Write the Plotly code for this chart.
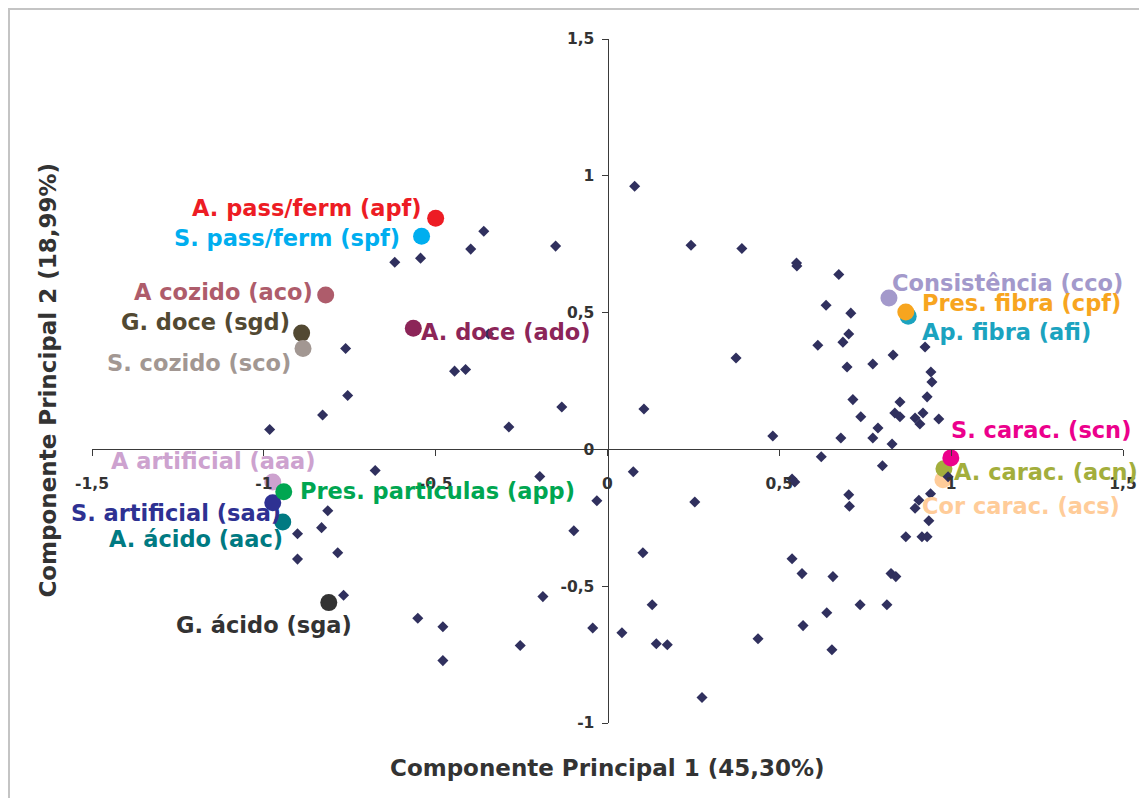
import plotly.graph_objects as go

# ---------------- data ----------------
# observations (scores) - dark diamonds
pc1_obs = [-0.619, -0.544, -0.398, -0.360, -0.151, -0.762, -0.445, -0.413, -0.756, -0.346,
           -0.829, -0.983, -0.133, -0.287,
           -0.676, -0.197, -0.031, -0.814, -0.832, -0.902, -0.785, -0.902, -0.768, -0.098,
           -0.188, -0.552, -0.479, -0.043, -0.254, -0.479,
           0.079, 0.243, 0.391, 0.550, 0.551, 0.673, 0.636, 0.708, 0.702, 0.685,
           0.612, 0.374, 0.697, 0.772, 0.831, 0.924, 0.941, 0.944, 0.930, 0.714,
           0.851, 0.737, 0.836, 0.851, 0.895, 0.918, 0.909, 0.964, 0.481, 0.679,
           0.787, 0.772, 0.828, 0.106,
           0.622, 0.800, 0.537, 0.545, 0.991, 0.702, 0.704, 0.940, 0.906, 0.895,
           0.935, 0.868, 0.915, 0.930, 0.075, 0.254, 0.103, 0.130, 0.042, 0.142,
           0.174, 0.438, 0.275, 0.537, 0.566, 0.656, 0.825, 0.839, 0.735, 0.813,
           0.638, 0.569, 0.653]
pc2_obs = [0.684, 0.699, 0.732, 0.797, 0.743, 0.369, 0.286, 0.292, 0.197, 0.422,
           0.126, 0.073, 0.155, 0.082,
           -0.077, -0.099, -0.188, -0.224, -0.286, -0.308, -0.378, -0.401, -0.533, -0.297,
           -0.538, -0.617, -0.648, -0.653, -0.717, -0.772,
           0.962, 0.746, 0.734, 0.681, 0.670, 0.639, 0.527, 0.498, 0.422, 0.392,
           0.381, 0.334, 0.301, 0.312, 0.345, 0.374, 0.283, 0.246, 0.192, 0.182,
           0.173, 0.119, 0.133, 0.119, 0.115, 0.133, 0.093, 0.111, 0.049, 0.042,
           0.078, 0.042, 0.020, 0.148,
           -0.027, -0.060, -0.108, -0.119, -0.100, -0.166, -0.208, -0.162, -0.186, -0.215,
           -0.261, -0.319, -0.319, -0.319, -0.082, -0.192, -0.378, -0.568, -0.670, -0.710,
           -0.714, -0.692, -0.907, -0.400, -0.454, -0.465, -0.454, -0.465, -0.568, -0.568,
           -0.597, -0.644, -0.732]

# variables (loadings) - coloured circles with labels
var_codes = ["apf", "spf", "aco", "sgd", "sco", "ado", "cco", "afi", "cpf",
             "acs", "acn", "scn", "aaa", "saa", "app", "aac", "sga"]
var_labels = ["A. pass/ferm (apf)", "S. pass/ferm (spf)", "A cozido (aco)", "G. doce (sgd)",
              "S. cozido (sco)", "A. doce (ado)", "Consistência (cco)", "Ap. fibra (afi)",
              "Pres. fibra (cpf)", "Cor carac. (acs)", "A. carac. (acn)", "S. carac. (scn)",
              "A artificial (aaa)", "S. artificial (saa)", "Pres. particulas (app)",
              "A. ácido (aac)", "G. ácido (sga)"]
pc1_var = [-0.500, -0.541, -0.820, -0.890, -0.886, -0.565, 0.819, 0.875, 0.868,
           0.976, 0.979, 0.999, -0.974, -0.974, -0.942, -0.945, -0.811]
pc2_var = [0.845, 0.779, 0.564, 0.425, 0.369, 0.443, 0.553, 0.487, 0.502,
           -0.111, -0.071, -0.031, -0.119, -0.195, -0.155, -0.265, -0.560]
var_colors = ["#ED1C24", "#00AEEF", "#AE5C6B", "#524932", "#A29792", "#8C2558", "#A399CB",
              "#1BA3BF", "#F7A51F", "#FFCC99", "#A3AE3C", "#EC008C", "#CDA2CF", "#2E3192",
              "#00A651", "#007A82", "#333333"]

x_tickvals = [-1.5, -1, -0.5, 0, 0.5, 1, 1.5]
x_ticktext = ["-1,5", "-1", "-0,5", "0", "0,5", "1", "1,5"]
y_tickvals = [-1, -0.5, 0, 0.5, 1, 1.5]
y_ticktext = ["-1", "-0,5", "0", "0,5", "1", "1,5"]

x_title = "Componente Principal 1 (45,30%)"
y_title = "Componente Principal 2 (18,99%)"

# ---------------- label placement (pixels) ----------------
label_pos = {
    "apf": ("right", -12, 10), "spf": ("right", -20, -2), "aco": ("right", -11, 3),
    "sgd": ("right", -10, 11), "sco": ("right", -10, -15), "ado": ("left", 6, -4),
    "cco": ("left", 1, 15), "afi": ("left", 12, -16), "cpf": ("left", 14, 9),
    "acs": ("left", -23, -26), "acn": ("left", 8, -3), "scn": ("left", -2, 28),
    "aaa": ("right", 45, 21), "saa": ("right", 10, -10), "app": ("left", 14, 1),
    "aac": ("right", 2, -17), "sga": ("center", -65, -22),
}

FONT = "DejaVu Sans"
fig = go.Figure()

for code, x, y, c in zip(var_codes, pc1_var, pc2_var, var_colors):
    fig.add_trace(go.Scatter(x=[x], y=[y], mode="markers",
                             marker=dict(symbol="circle", size=17, color=c),
                             hoverinfo="skip", showlegend=False))

fig.add_trace(go.Scatter(x=pc1_obs, y=pc2_obs, mode="markers",
                         marker=dict(symbol="diamond", size=8.5, color="#30305E"),
                         showlegend=False))

annotations = []
for code, lab, x, y, c in zip(var_codes, var_labels, pc1_var, pc2_var, var_colors):
    xa, xs, ys = label_pos[code]
    annotations.append(dict(x=x, y=y, xref="x", yref="y", text=lab, showarrow=False,
                            xanchor=xa, yanchor="middle", xshift=xs, yshift=ys,
                            font=dict(family=FONT, size=22.5, color=c, weight="bold")))

annotations.append(dict(x=0.5, y=-0.0658, xref="paper", yref="paper", text=x_title,
                        showarrow=False, xanchor="center", yanchor="middle",
                        font=dict(family=FONT, size=23, color="#333333", weight="bold")))
annotations.append(dict(x=-0.0436, y=0.5007, xref="paper", yref="paper", text=y_title,
                        showarrow=False, xanchor="center", yanchor="middle", textangle=-90,
                        font=dict(family=FONT, size=23, color="#333333", weight="bold")))

tickfont = dict(family=FONT, size=15.5, color="#333333", weight="bold")

# the page body adds an 8px offset, so the figure is sized to fill the rest of the window
fig.update_layout(
    width=1139, height=790,
    margin=dict(l=84, r=24, t=31, b=75, autoexpand=False),
    paper_bgcolor="white", plot_bgcolor="white",
    showlegend=False,
    xaxis=dict(range=[-1.5, 1.5], domain=[0, 1], anchor="free", position=0.4,
               showline=True, linecolor="#3A3A3A", linewidth=1,
               ticks="outside", ticklen=6, tickcolor="#3A3A3A",
               tickvals=x_tickvals, ticktext=x_ticktext, tickfont=tickfont,
               ticklabelstandoff=14, showgrid=False, zeroline=False),
    yaxis=dict(range=[-1, 1.5], domain=[0, 1], anchor="free", position=0.5,
               showline=True, linecolor="#3A3A3A", linewidth=1,
               ticks="outside", ticklen=6, tickcolor="#3A3A3A",
               tickvals=y_tickvals, ticktext=y_ticktext, tickfont=tickfont,
               ticklabelstandoff=4, showgrid=False, zeroline=False),
    annotations=annotations,
    shapes=[dict(type="rect", xref="paper", yref="paper",
                 x0=-0.0805, x1=1.05, y0=-0.15, y1=1.0439,
                 line=dict(color="#C4C4C4", width=2), layer="below")],
)

fig.write_html("out.html")
